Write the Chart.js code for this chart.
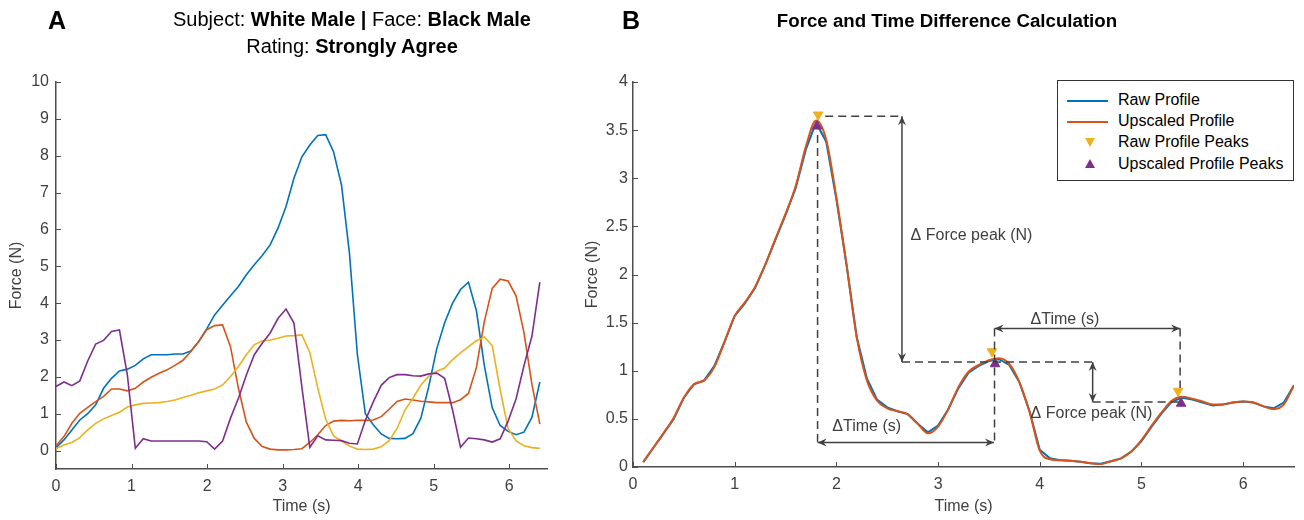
<!DOCTYPE html>
<html>
<head>
<meta charset="utf-8">
<script src="https://cdn.jsdelivr.net/npm/chart.js@4.4.1/dist/chart.umd.min.js"></script>
<style>
  body { margin: 0; background: #fff; width: 1304px; height: 520px; position: relative; overflow: hidden;
         font-family: "Liberation Sans", Arial, sans-serif; }
  canvas { position: absolute; top: 0; }
  #leftChart { left: 0; }
  #rightChart { left: 580px; }
  .panel { position: absolute; top: 6px; font-size: 25px; line-height: 28px; font-weight: bold; color: #000; }
  .head { position: absolute; font-size: 20px; line-height: 27px; color: #000; text-align: center;
          white-space: nowrap; transform: translateX(-50%); }
  #legend { position: absolute; left: 1057px; top: 80px; width: 237px; height: 101px; box-sizing: border-box;
            border: 1px solid #333; background: #fff; font-size: 16px; color: #000; }
  #legend .row { position: absolute; left: 0; height: 20px; line-height: 20px; width: 100%; }
  #legend .sample { position: absolute; left: 9px; width: 41px; top: 10px; border-top: 2px solid; }
  #legend .lbl { position: absolute; left: 60px; top: 0; white-space: nowrap; }
  #legend .tri { position: absolute; left: 27px; width: 0; height: 0;
                 border-left: 5px solid transparent; border-right: 5px solid transparent; }
</style>
</head>
<body>
<canvas id="leftChart" width="560" height="520"></canvas>
<canvas id="rightChart" width="724" height="520"></canvas>

<div class="panel" style="left:48px">A</div>
<div class="panel" style="left:622px">B</div>
<div class="head" style="left:352px; top:6px">Subject: <b>White Male |</b> Face: <b>Black Male</b><br>Rating: <b>Strongly Agree</b></div>
<div class="head" style="left:947px; top:7px; font-size:18.7px"><b>Force and Time Difference Calculation</b></div>

<div id="legend">
  <div class="row" style="top:9px"><span class="sample" style="border-color:#0072BD"></span><span class="lbl">Raw Profile</span></div>
  <div class="row" style="top:30px"><span class="sample" style="border-color:#D95319"></span><span class="lbl">Upscaled Profile</span></div>
  <div class="row" style="top:51px"><span class="tri" style="top:6px; border-top:9px solid #EDB120"></span><span class="lbl">Raw Profile Peaks</span></div>
  <div class="row" style="top:73px"><span class="tri" style="top:5px; border-bottom:9px solid #7E2F8E"></span><span class="lbl">Upscaled Profile Peaks</span></div>
</div>

<script>
// ---- Panel A: four force traces, sampled every 0.105 s ----
const traceStep = 0.105;
const traceBlue = [0.08, 0.29, 0.56, 0.83, 1.0, 1.24, 1.69, 1.96, 2.16, 2.21,
  2.31, 2.49, 2.6, 2.6, 2.6, 2.62, 2.62, 2.7, 2.96, 3.3,
  3.68, 3.94, 4.2, 4.45, 4.77, 5.04, 5.29, 5.58, 6.04, 6.62,
  7.39, 7.97, 8.29, 8.55, 8.57, 8.1, 7.2, 5.35, 2.6, 1.0,
  0.7, 0.45, 0.33, 0.32, 0.33, 0.46, 0.88, 1.74, 2.76, 3.47,
  4.0, 4.37, 4.57, 3.8, 2.31, 1.16, 0.68, 0.52, 0.43, 0.5,
  0.9, 1.86];
const traceOrange = [0.13, 0.38, 0.74, 1.01, 1.17, 1.33, 1.47, 1.67, 1.67, 1.62,
  1.69, 1.86, 1.99, 2.1, 2.19, 2.31, 2.45, 2.69, 2.96, 3.28,
  3.39, 3.41, 2.82, 1.69, 0.77, 0.33, 0.11, 0.04, 0.02, 0.02,
  0.03, 0.05, 0.22, 0.43, 0.68, 0.8, 0.82, 0.81, 0.82, 0.82,
  0.83, 0.92, 1.12, 1.33, 1.4, 1.37, 1.34, 1.32, 1.3, 1.3,
  1.3, 1.38, 1.55, 2.25, 3.5, 4.4, 4.65, 4.6, 4.2, 3.2,
  1.8, 0.72];
const traceYellow = [0.05, 0.15, 0.22, 0.35, 0.56, 0.74, 0.86, 0.95, 1.04, 1.18,
  1.24, 1.28, 1.29, 1.3, 1.33, 1.37, 1.44, 1.5, 1.57, 1.62,
  1.67, 1.78, 2.01, 2.28, 2.6, 2.87, 2.98, 3.0, 3.05, 3.11,
  3.12, 3.14, 2.66, 1.7, 0.85, 0.4, 0.26, 0.12, 0.04, 0.03,
  0.04, 0.1, 0.27, 0.6, 1.1, 1.42, 1.78, 2.02, 2.15, 2.24,
  2.47, 2.65, 2.82, 2.98, 3.08, 2.85, 1.65, 0.6, 0.26, 0.13,
  0.08, 0.06];
const tracePurple = [1.74, 1.86, 1.76, 1.89, 2.43, 2.89, 2.99, 3.23, 3.27, 2.05,
  0.06, 0.32, 0.26, 0.26, 0.26, 0.26, 0.26, 0.26, 0.26, 0.24,
  0.04, 0.26, 0.88, 1.42, 2.05, 2.6, 2.91, 3.19, 3.59, 3.84,
  3.46, 1.72, 0.09, 0.4, 0.29, 0.28, 0.27, 0.2, 0.18, 0.82,
  1.32, 1.77, 1.98, 2.06, 2.06, 2.03, 2.02, 2.08, 2.1, 1.96,
  1.1, 0.09, 0.34, 0.32, 0.29, 0.23, 0.32, 0.8, 1.4, 2.3,
  3.1, 4.57];
const leftXTicks = [0, 1, 2, 3, 4, 5, 6];
const leftYTicks = [0, 1, 2, 3, 4, 5, 6, 7, 8, 9, 10];

// ---- Panel B: raw and upscaled profile, sampled every 0.1 s from 0.1 s ----
const profileStep = 0.1;
const rawProfile = [0.05, 0.2, 0.35, 0.5, 0.72, 0.86, 0.9, 1.05, 1.3, 1.57,
  1.7, 1.86, 2.1, 2.36, 2.62, 2.9, 3.3, 3.58, 3.38, 2.78,
  2.1, 1.35, 0.92, 0.7, 0.62, 0.58, 0.55, 0.45, 0.36, 0.43,
  0.6, 0.82, 0.98, 1.05, 1.1, 1.12, 1.06, 0.88, 0.58, 0.18,
  0.09, 0.07, 0.065, 0.055, 0.04, 0.035, 0.06, 0.09, 0.16, 0.27,
  0.42, 0.56, 0.68, 0.72, 0.7, 0.67, 0.64, 0.65, 0.67, 0.68,
  0.67, 0.63, 0.61, 0.67, 0.85];
const upscaledProfile = [0.05, 0.2, 0.35, 0.51, 0.72, 0.86, 0.9, 1.04, 1.3, 1.57,
  1.71, 1.87, 2.1, 2.37, 2.63, 2.92, 3.33, 3.6, 3.4, 2.8,
  2.1, 1.35, 0.9, 0.69, 0.61, 0.58, 0.55, 0.45, 0.35, 0.42,
  0.6, 0.83, 0.99, 1.06, 1.11, 1.13, 1.07, 0.88, 0.57, 0.17,
  0.08, 0.07, 0.065, 0.055, 0.04, 0.03, 0.06, 0.09, 0.16, 0.28,
  0.43, 0.57, 0.69, 0.73, 0.71, 0.68, 0.65, 0.65, 0.67, 0.68,
  0.67, 0.63, 0.6, 0.65, 0.85];
const rawPeakTime = [1.82, 3.53, 5.36];
const rawPeakForce = [3.66, 1.2, 0.79];
const upPeakTime = [1.81, 3.56, 5.39];
const upPeakForce = [3.54, 1.07, 0.66];
const rightXTicks = [0, 1, 2, 3, 4, 5, 6];
const rightYTicks = [0, 0.5, 1, 1.5, 2, 2.5, 3, 3.5, 4];

// annotation geometry in data units (time, force)
const dashedGuides = [
  [[1.89, 3.645], [2.645, 3.645]],
  [[1.815, 3.45], [1.815, 0.26]],
  [[2.645, 1.09], [4.52, 1.09]],
  [[4.52, 0.675], [5.38, 0.675]],
  [[3.555, 1.44], [3.555, 0.26]],
  [[5.38, 1.44], [5.38, 0.82]]
];
const doubleArrows = [
  [[2.645, 3.645], [2.645, 1.09]],
  [[1.815, 0.255], [3.55, 0.255]],
  [[4.52, 1.09], [4.52, 0.675]],
  [[3.555, 1.44], [5.38, 1.44]]
];
const noteLabels = [
  { text: 'Δ Force peak (N)', t: 2.73, f: 2.4 },
  { text: 'ΔTime (s)', t: 1.96, f: 0.416 },
  { text: 'ΔTime (s)', t: 3.91, f: 1.53 },
  { text: 'Δ Force peak (N)', t: 3.91, f: 0.56 }
];

const AXIS_COLOR = '#4d4d4d';
const TEXT_COLOR = '#404040';
const FONT = '"Liberation Sans", Arial, sans-serif';

function points(step, start, values) {
  return values.map((v, i) => ({ x: start + i * step, y: v }));
}

// MATLAB-style tick marks pointing into the plot
const inwardTicks = {
  id: 'inwardTicks',
  afterDraw(chart) {
    const { ctx, chartArea, scales } = chart;
    ctx.save();
    ctx.strokeStyle = AXIS_COLOR;
    ctx.lineWidth = 1;
    scales.x.ticks.forEach(t => {
      const px = Math.round(scales.x.getPixelForValue(t.value)) + 0.5;
      ctx.beginPath();
      ctx.moveTo(px, chartArea.bottom);
      ctx.lineTo(px, chartArea.bottom - 5);
      ctx.stroke();
    });
    scales.y.ticks.forEach(t => {
      const py = Math.round(scales.y.getPixelForValue(t.value)) + 0.5;
      ctx.beginPath();
      ctx.moveTo(chartArea.left, py);
      ctx.lineTo(chartArea.left + 5, py);
      ctx.stroke();
    });
    ctx.restore();
  }
};

function arrowHead(ctx, x, y, ang) {
  const len = 9, half = 4, notch = 6;
  const c = Math.cos(ang), s = Math.sin(ang);
  ctx.beginPath();
  ctx.moveTo(x, y);
  ctx.lineTo(x - len * c + half * s, y - len * s - half * c);
  ctx.lineTo(x - notch * c, y - notch * s);
  ctx.lineTo(x - len * c - half * s, y - len * s + half * c);
  ctx.closePath();
  ctx.fill();
}

const peakNotes = {
  id: 'peakNotes',
  afterDatasetsDraw(chart) {
    const { ctx, scales: { x, y } } = chart;
    const px = p => [x.getPixelForValue(p[0]), y.getPixelForValue(p[1])];
    ctx.save();
    ctx.strokeStyle = TEXT_COLOR;
    ctx.fillStyle = TEXT_COLOR;
    ctx.lineWidth = 1.5;
    ctx.setLineDash([8, 5]);
    dashedGuides.forEach(([a, b]) => {
      const [x1, y1] = px(a), [x2, y2] = px(b);
      ctx.beginPath(); ctx.moveTo(x1, y1); ctx.lineTo(x2, y2); ctx.stroke();
    });
    ctx.setLineDash([]);
    doubleArrows.forEach(([a, b]) => {
      const [x1, y1] = px(a), [x2, y2] = px(b);
      const ang = Math.atan2(y2 - y1, x2 - x1);
      ctx.beginPath(); ctx.moveTo(x1, y1); ctx.lineTo(x2, y2); ctx.stroke();
      arrowHead(ctx, x2, y2, ang);
      arrowHead(ctx, x1, y1, ang + Math.PI);
    });
    ctx.font = '16px ' + FONT;
    ctx.textBaseline = 'middle';
    ctx.textAlign = 'left';
    noteLabels.forEach(n => {
      const [lx, ly] = px([n.t, n.f]);
      ctx.fillText(n.text, lx, ly);
    });
    ctx.restore();
  }
};

function axisOptions(ticks, min, max, fixed, isY, titleText, titlePad, tickPad) {
  return {
    type: 'linear', min: min, max: max,
    afterBuildTicks: s => { s.ticks = ticks.map(v => ({ value: v })); },
    afterFit: s => { if (isY) s.width = fixed; else s.height = fixed; },
    grid: { display: true, drawOnChartArea: false, drawTicks: false },
    border: { display: true, color: AXIS_COLOR, width: 1.5 },
    ticks: { color: TEXT_COLOR, font: { family: FONT, size: 16 }, padding: tickPad,
             maxRotation: 0, autoSkip: false, callback: v => String(v) },
    title: { display: true, text: titleText, color: TEXT_COLOR, font: { family: FONT, size: 16 },
             padding: isY ? { top: titlePad, bottom: 0 } : { top: 0, bottom: titlePad } }
  };
}

const traceColors = ['#0072BD', '#D95319', '#EDB120', '#7E2F8E'];
const traces = [traceBlue, traceOrange, traceYellow, tracePurple];

new Chart(document.getElementById('leftChart'), {
  type: 'line',
  data: {
    datasets: traces.map((vals, i) => ({
      data: points(traceStep, 0, vals),
      borderColor: traceColors[i],
      borderWidth: 1.6,
      pointRadius: 0,
      tension: 0,
      order: traces.length - i
    }))
  },
  options: {
    responsive: false,
    animation: false,
    layout: { padding: { left: 0, right: 13, top: 82, bottom: 0 } },
    plugins: { legend: { display: false }, tooltip: { enabled: false } },
    scales: {
      x: axisOptions(leftXTicks, 0, 6.5, 51, false, 'Time (s)', 4, 8),
      y: axisOptions(leftYTicks, -0.5, 10, 56, true, 'Force (N)', 7, 7)
    }
  },
  plugins: [inwardTicks]
});

new Chart(document.getElementById('rightChart'), {
  type: 'line',
  data: {
    datasets: [
      { label: 'Raw Profile', data: points(profileStep, 0.1, rawProfile), borderColor: '#0072BD',
        borderWidth: 2, pointRadius: 0, tension: 0, order: 4 },
      { label: 'Upscaled Profile', data: points(profileStep, 0.1, upscaledProfile), borderColor: '#D95319',
        borderWidth: 2, pointRadius: 0, cubicInterpolationMode: 'monotone', order: 3 },
      { label: 'Raw Profile Peaks', data: rawPeakTime.map((t, i) => ({ x: t, y: rawPeakForce[i] })),
        showLine: false, pointStyle: 'triangle', rotation: 180, pointRadius: 5.5,
        backgroundColor: '#EDB120', borderColor: '#EDB120', borderWidth: 1, order: 2 },
      { label: 'Upscaled Profile Peaks', data: upPeakTime.map((t, i) => ({ x: t, y: upPeakForce[i] })),
        showLine: false, pointStyle: 'triangle', pointRadius: 5.5,
        backgroundColor: '#7E2F8E', borderColor: '#7E2F8E', borderWidth: 1, order: 1 }
    ]
  },
  options: {
    responsive: false,
    animation: false,
    layout: { padding: { left: 0, right: 10, top: 82, bottom: 0 } },
    plugins: { legend: { display: false }, tooltip: { enabled: false } },
    scales: {
      x: axisOptions(rightXTicks, 0, 6.5, 53, false, 'Time (s)', 4, 8),
      y: axisOptions(rightYTicks, 0, 4, 53, true, 'Force (N)', 3, 5)
    }
  },
  plugins: [inwardTicks, peakNotes]
});
</script>
</body>
</html>
